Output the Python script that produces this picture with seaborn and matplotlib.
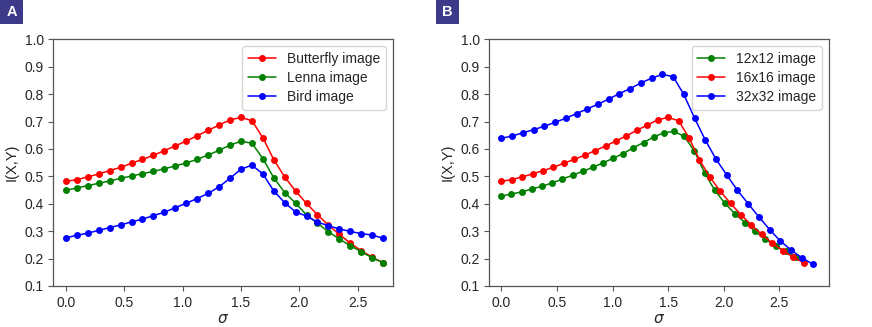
import matplotlib
matplotlib.use("Agg")
import matplotlib.pyplot as plt
from matplotlib.patches import Rectangle
import seaborn as sns
import pandas as pd

# sigma grids
sigma_std = [0.0, 0.094, 0.188, 0.281, 0.375, 0.469, 0.563, 0.656, 0.75, 0.844,
             0.938, 1.031, 1.125, 1.219, 1.313, 1.406, 1.5, 1.594, 1.688, 1.781,
             1.875, 1.969, 2.063, 2.156, 2.25, 2.344, 2.438, 2.531, 2.625, 2.719]
sigma_12 = [0.0, 0.091, 0.183, 0.274, 0.366, 0.457, 0.548, 0.640, 0.731, 0.822,
            0.914, 1.005, 1.097, 1.188, 1.279, 1.371, 1.462, 1.553, 1.645, 1.736,
            1.828, 1.919, 2.010, 2.102, 2.193, 2.284, 2.376, 2.467, 2.559, 2.650]
sigma_32 = [0.0, 0.097, 0.193, 0.290, 0.386, 0.483, 0.579, 0.676, 0.772, 0.869,
            0.966, 1.062, 1.159, 1.255, 1.352, 1.448, 1.545, 1.641, 1.738, 1.834,
            1.931, 2.028, 2.124, 2.221, 2.317, 2.414, 2.510, 2.607, 2.703, 2.800]

# panel A
butterfly = [0.482, 0.488, 0.498, 0.509, 0.521, 0.533, 0.548, 0.562, 0.577, 0.594,
             0.611, 0.629, 0.648, 0.668, 0.687, 0.706, 0.715, 0.703, 0.641, 0.561,
             0.498, 0.446, 0.401, 0.360, 0.322, 0.288, 0.256, 0.229, 0.205, 0.185]
lenna = [0.449, 0.458, 0.466, 0.475, 0.483, 0.493, 0.501, 0.510, 0.518, 0.528,
         0.538, 0.549, 0.562, 0.578, 0.595, 0.614, 0.628, 0.621, 0.565, 0.495,
         0.441, 0.402, 0.359, 0.329, 0.298, 0.271, 0.247, 0.225, 0.203, 0.185]
bird = [0.276, 0.285, 0.293, 0.303, 0.313, 0.323, 0.334, 0.344, 0.357, 0.369,
        0.386, 0.402, 0.419, 0.438, 0.462, 0.493, 0.526, 0.541, 0.509, 0.447,
        0.404, 0.370, 0.355, 0.333, 0.320, 0.308, 0.299, 0.291, 0.286, 0.274]

# panel B
img12 = [0.428, 0.436, 0.443, 0.454, 0.464, 0.476, 0.490, 0.504, 0.518, 0.533,
         0.549, 0.566, 0.583, 0.605, 0.623, 0.644, 0.659, 0.664, 0.646, 0.593,
         0.513, 0.450, 0.402, 0.363, 0.331, 0.299, 0.270, 0.246, 0.226, 0.207]
img16 = butterfly
img32 = [0.639, 0.647, 0.659, 0.670, 0.683, 0.697, 0.712, 0.729, 0.746, 0.763,
         0.782, 0.802, 0.820, 0.841, 0.858, 0.872, 0.864, 0.799, 0.713, 0.633,
         0.563, 0.505, 0.449, 0.400, 0.352, 0.306, 0.264, 0.231, 0.203, 0.180]

panel_a = [("Butterfly image", sigma_std, butterfly, "red"),
           ("Lenna image", sigma_std, lenna, "green"),
           ("Bird image", sigma_std, bird, "blue")]
panel_b = [("12x12 image", sigma_12, img12, "green"),
           ("16x16 image", sigma_std, img16, "red"),
           ("32x32 image", sigma_32, img32, "blue")]

sns.set_theme(style="ticks")
plt.rcParams["font.family"] = ["Liberation Sans", "DejaVu Sans"]
plt.rcParams["mathtext.fontset"] = "dejavusans"

W, H = 872, 327
fig = plt.figure(figsize=(W / 100, H / 100), dpi=100)
ax_a = fig.add_axes([0.0612, 0.1254, 0.389, 0.7544])
ax_b = fig.add_axes([0.5612, 0.1254, 0.389, 0.7544])

setups = [(ax_a, panel_a, "A", 0, 2.80), (ax_b, panel_b, "B", 436, 2.944)]
for ax, series, tag, px, xmax in setups:
    for name, xs, ys, col in series:
        df = pd.DataFrame({"sigma": xs, "I": ys})
        sns.lineplot(data=df, x="sigma", y="I", ax=ax, color=col, label=name,
                     marker="o", markersize=5, markeredgewidth=0, linewidth=1.1)
    ax.set_ylim(0.1, 1.0)
    ax.set_yticks([0.1, 0.2, 0.3, 0.4, 0.5, 0.6, 0.7, 0.8, 0.9, 1.0])
    ax.set_xticks([0.0, 0.5, 1.0, 1.5, 2.0, 2.5])
    ax.set_xlim(-0.108, xmax)
    ax.tick_params(labelsize=10, color="#555555", length=3.5, width=0.8)
    for sp in ax.spines.values():
        sp.set_color("#555555")
        sp.set_linewidth(0.9)
    ax.set_xlabel(r"$\sigma$", fontsize=11, labelpad=1.5)
    ax.set_ylabel("I(X,Y)", fontsize=10.5)
    ax.legend(loc="upper right", fontsize=10, frameon=True, handlelength=2.0,
              labelspacing=0.38)
    # panel tag box
    fig.patches.append(Rectangle((px / W, 1 - 24 / H), 23 / W, 24 / H,
                                 transform=fig.transFigure, fc="#3d3a8a",
                                 ec="none", zorder=5))
    fig.text((px + 11.5) / W, 1 - 12 / H, tag, color="white", fontsize=10.5,
             fontweight="bold", ha="center", va="center", zorder=6)

fig.savefig("out.png", dpi=100)
